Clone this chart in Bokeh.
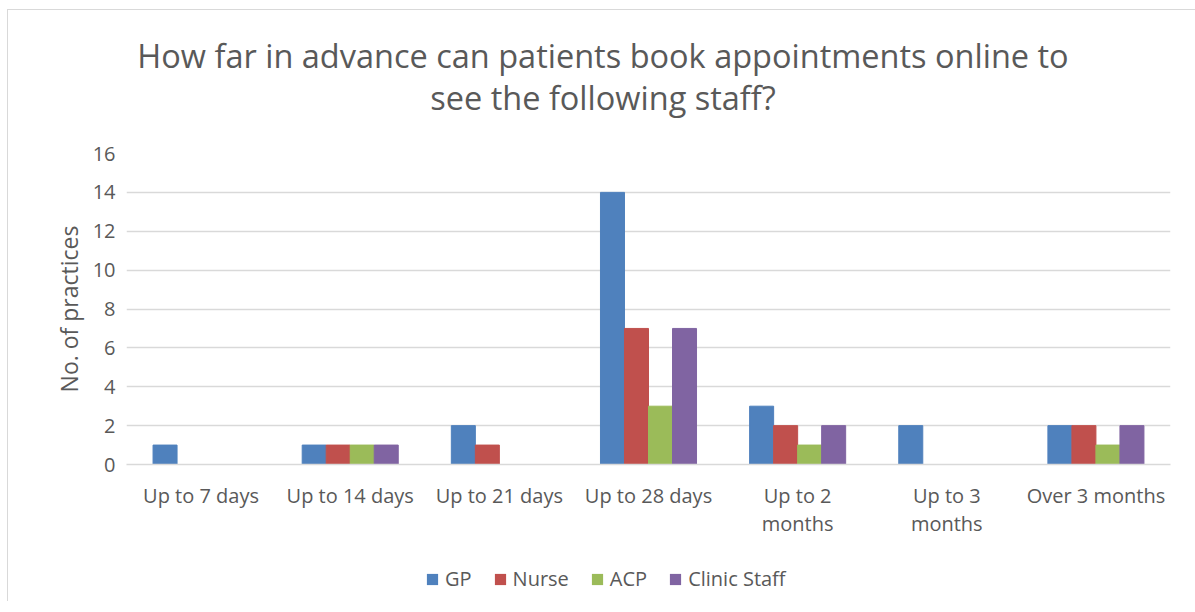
from bokeh.plotting import figure
from bokeh.models import FactorRange, Legend, LegendItem, ColumnDataSource
from bokeh.core.properties import value
from bokeh.layouts import column
from bokeh.transform import dodge
from bokeh.embed import file_html
from bokeh.resources import INLINE

categories = ["Up to 7 days", "Up to 14 days", "Up to 21 days", "Up to 28 days",
              "Up to 2\nmonths", "Up to 3\nmonths", "Over 3 months"]
series_names = ["GP", "Nurse", "ACP", "Clinic Staff"]
gp = [1, 1, 2, 14, 3, 2, 2]
nurse = [0, 1, 1, 7, 2, 0, 2]
acp = [0, 1, 0, 3, 1, 0, 1]
clinic = [0, 1, 0, 7, 2, 0, 2]
colors = ["#4f81bd", "#c0504d", "#9bbb59", "#8064a2"]
y_ticks = [0, 2, 4, 6, 8, 10, 12, 14, 16]
title_lines = ["How far in advance can patients book appointments online to",
               "see the following staff?"]

FONT = "Open Sans"
GREY = "#595959"
OX, OY = 8, 10            # chart box offset (7/9 px margin + 1 px border)
W = 1195 - OX
FL, FR = 126, 1170        # frame left/right (page px)
TITLE_H = 130

# ---- title strip ----
tt = figure(width=W, height=TITLE_H, x_range=(FL, FR), y_range=(TITLE_H, 0),
            output_backend="svg", toolbar_location=None,
            min_border_left=FL - OX, min_border_right=1195 - FR, min_border_top=0, min_border_bottom=0)
tt.axis.visible = False
tt.grid.grid_line_color = None
tt.outline_line_color = None
tt.text(x=[602.5, 602.5], y=[55 - OY, 97 - OY], text=title_lines, text_align="center",
        text_baseline="middle", text_font=value(FONT), text_font_size="32.5px",
        text_color=GREY)

# ---- main chart ----
src = ColumnDataSource(dict(cat=categories, GP=gp, Nurse=nurse, ACP=acp, Clinic=clinic))

p = figure(width=W, height=545 - TITLE_H, x_range=FactorRange(*categories), y_range=(0, 16),
           output_backend="svg", toolbar_location=None,
           min_border_left=FL - OX, min_border_right=1195 - FR, min_border_top=153 - OY - TITLE_H,
           min_border_bottom=91)

bw = 0.161
keys = ["GP", "Nurse", "ACP", "Clinic"]
offsets = [-1.5 * bw, -0.5 * bw, 0.5 * bw, 1.5 * bw]
for k, off, c in zip(keys, offsets, colors):
    p.vbar(x=dodge("cat", off, range=p.x_range), top=k, width=bw, source=src,
           fill_color=c, line_color=c)

p.yaxis.ticker = y_ticks
p.yaxis.axis_label = "No. of practices"
p.yaxis.axis_label_text_font = FONT
p.yaxis.axis_label_text_font_size = "23px"
p.yaxis.axis_label_text_font_style = "normal"
p.yaxis.axis_label_text_color = GREY
p.yaxis.axis_line_color = None
p.yaxis.major_tick_line_color = None
p.yaxis.minor_tick_line_color = None

for ax in (p.xaxis, p.yaxis):
    ax.major_label_text_font = FONT
    ax.major_label_text_font_size = "20px"
    ax.major_label_text_color = GREY

p.xaxis.axis_line_color = "#d9d9d9"
p.xaxis.axis_line_width = 1.3
p.xaxis.major_tick_line_color = None
p.xaxis.minor_tick_line_color = None
p.xaxis.major_label_standoff = 11
p.xaxis.major_label_text_line_height = 1.05

p.xgrid.grid_line_color = None
p.ygrid.grid_line_color = "#d9d9d9"
p.ygrid.grid_line_width = 1.3
p.outline_line_color = None
p.x_range.range_padding = 0

# ---- legend strip ----
lg = figure(width=W, height=46, x_range=(0, 1), y_range=(0, 1),
            output_backend="svg", toolbar_location=None,
            min_border_left=FL - OX, min_border_right=1195 - FR, min_border_top=0, min_border_bottom=0)
lg.axis.visible = False
lg.grid.grid_line_color = None
lg.outline_line_color = None
items = []
for n, c in zip(series_names, colors):
    r = lg.vbar(x=[0.5], top=[0.5], bottom=[0.5], width=0, fill_color=c, line_color=None)
    items.append(LegendItem(label=n, renderers=[r]))
legend = Legend(items=items, orientation="horizontal", location=(299, 9),
                label_text_font=FONT, label_text_font_size="20px", label_text_color=GREY,
                glyph_width=14, glyph_height=14, spacing=21, label_standoff=6,
                border_line_color=None, background_fill_alpha=0, margin=0, padding=4)
lg.add_layout(legend)

layout = column(tt, p, lg, spacing=0,
                styles={"border-left": "1px solid #d9d9d9", "border-top": "1px solid #d9d9d9",
                        "margin-left": "7px", "margin-top": "9px"})
open("out.html", "w").write(file_html(layout, INLINE))
